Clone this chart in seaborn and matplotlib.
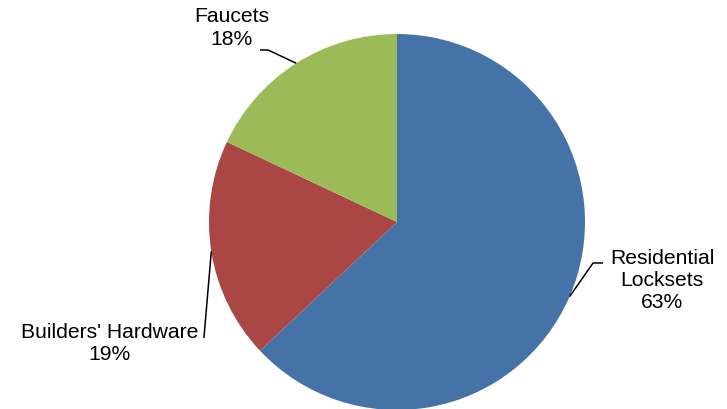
import numpy as np
import matplotlib
matplotlib.use("Agg")
import matplotlib.pyplot as plt
import seaborn as sns

# Data
categories = ["Residential\nLocksets", "Builders' Hardware", "Faucets"]
shares = [63, 19, 18]
colors = ["#4673A7", "#AA4644", "#9BBB59"]

sns.set_theme(style="white")
plt.rcParams['font.family'] = ['Liberation Sans', 'DejaVu Sans']

W, H = 727, 409
fig = plt.figure(figsize=(W / 100, H / 100), dpi=100)
ax = fig.add_axes([0, 0, 1, 1])

cx, cy, R = 397, 222, 188  # pixel layout of the pie

wedges, _ = ax.pie(shares, colors=colors, startangle=90, counterclock=False,
                   radius=1.0, center=(0, 0), frame=True,
                   wedgeprops=dict(linewidth=0))
ax.set_xlim(-cx / R, (W - cx) / R)
ax.set_ylim(-(H - cy) / R, cy / R)
ax.set_aspect("auto")
ax.axis("off")

# layout: text centre and leader-line elbow points (data units, radius=1)
text_pos = [(1.410, -0.311), (-1.527, -0.646), (-0.878, 1.032)]
elbows = [[(1.096, -0.218), (1.043, -0.218)],
          [(-1.027, -0.617)],
          [(-0.729, 0.915), (-0.686, 0.915)]]

for w, cat, val, tp, el in zip(wedges, categories, shares, text_pos, elbows):
    mid = np.deg2rad((w.theta1 + w.theta2) / 2)
    edge = (np.cos(mid), np.sin(mid))
    pts = el + [edge]
    xs, ys = zip(*pts)
    ax.plot(xs, ys, color="black", lw=1.1, solid_capstyle="butt")
    ax.text(tp[0], tp[1], f"{cat}\n{val}%", ha="center", va="center",
            fontsize=15.2, color="black", linespacing=1.22)

fig.savefig("out.png", dpi=100)
